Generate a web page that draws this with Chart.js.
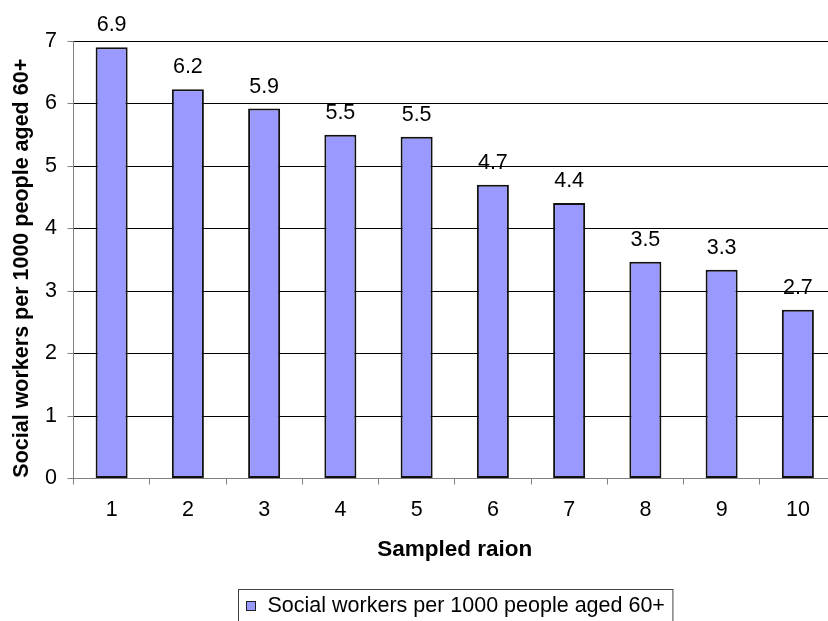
<!DOCTYPE html>
<html>
<head>
<meta charset="utf-8">
<title>Social workers per 1000 people aged 60+</title>
<script src="https://cdn.jsdelivr.net/npm/chart.js@4.4.1/dist/chart.umd.min.js"></script>
<style>
  html, body { margin: 0; padding: 0; background: #ffffff; overflow: hidden; }
  #wrap { width: 828px; height: 621px; overflow: hidden; }
  #chart { display: block; }
</style>
</head>
<body>
<div id="wrap">
  <canvas id="chart" width="845" height="621"></canvas>
</div>
<script>
// ---- data ----
const raions = ['1', '2', '3', '4', '5', '6', '7', '8', '9', '10'];
const workersPer1000 = [6.9, 6.23, 5.92, 5.5, 5.47, 4.7, 4.41, 3.47, 3.34, 2.7];
const seriesName = 'Social workers per 1000 people aged 60+';
const xAxisTitle = 'Sampled raion';
const yAxisTitle = 'Social workers per 1000 people aged 60+';
const yMin = 0;
const yMax = 7;
const yStep = 1;

// ---- styling ----
const FONT = '"Liberation Sans", Arial, Helvetica, sans-serif';
const SIZE = 21.5;
const TITLE_SIZE = 22.5;
const BAR_FILL = '#9999FF';
const BAR_EDGE = '#111111';
const AXIS_GREY = '#808080';

Chart.defaults.font.family = FONT;
Chart.defaults.font.size = SIZE;
Chart.defaults.color = '#000000';

// value printed above each bar
const barValueLabels = {
  id: 'barValueLabels',
  afterDatasetsDraw(chart) {
    const { ctx } = chart;
    const meta = chart.getDatasetMeta(0);
    const values = chart.data.datasets[0].data;
    ctx.save();
    ctx.font = `${SIZE}px ${FONT}`;
    ctx.fillStyle = '#000000';
    ctx.textAlign = 'center';
    ctx.textBaseline = 'alphabetic';
    meta.data.forEach((bar, i) => {
      ctx.fillText(values[i].toFixed(1), bar.x, bar.y - 16);
    });
    ctx.restore();
  }
};

// vertical value-axis title, set a little below the plot's middle
const valueAxisTitle = {
  id: 'valueAxisTitle',
  afterDraw(chart) {
    const { ctx, chartArea } = chart;
    const cy = (chartArea.top + chartArea.bottom) / 2 + 8.5;
    ctx.save();
    ctx.translate(22.5, cy);
    ctx.rotate(-Math.PI / 2);
    ctx.font = `bold ${SIZE}px ${FONT}`;
    ctx.fillStyle = '#000000';
    ctx.textAlign = 'center';
    ctx.textBaseline = 'middle';
    ctx.fillText(yAxisTitle, 0, 0);
    ctx.restore();
  }
};

// boxed legend under the axis title, centred on the plot
const boxedLegend = {
  id: 'boxedLegend',
  afterDraw(chart) {
    const { ctx, chartArea } = chart;
    const ds = chart.data.datasets[0];
    ctx.save();
    ctx.font = `${SIZE}px ${FONT}`;
    const textW = ctx.measureText(ds.label).width;
    const padL = 8, sw = 9, gap = 12, padR = 8;
    const boxW = padL + sw + gap + textW + padR;
    const cx = (chartArea.left + chartArea.right) / 2;
    const left = Math.round(cx - boxW / 2) + 0.5;
    const top = 589.5;
    ctx.strokeStyle = '#404040';
    ctx.lineWidth = 1;
    ctx.strokeRect(left, top, boxW, 60);
    const midY = 606;
    ctx.fillStyle = ds.backgroundColor;
    ctx.fillRect(left + padL, midY - 4.5, sw, sw);
    ctx.strokeStyle = '#202020';
    ctx.strokeRect(left + padL, midY - 4.5, sw, sw);
    ctx.fillStyle = '#000000';
    ctx.textAlign = 'left';
    ctx.textBaseline = 'middle';
    ctx.fillText(ds.label, left + padL + sw + gap, midY);
    ctx.restore();
  }
};

new Chart(document.getElementById('chart'), {
  type: 'bar',
  data: {
    labels: raions,
    datasets: [{
      label: seriesName,
      data: workersPer1000,
      backgroundColor: BAR_FILL,
      borderColor: BAR_EDGE,
      borderWidth: 2,
      borderSkipped: false,
      barPercentage: 0.42,
      categoryPercentage: 1.0
    }]
  },
  options: {
    responsive: false,
    animation: false,
    events: [],
    layout: { padding: { left: 9, top: 41, right: 9, bottom: 58 } },
    plugins: {
      legend: { display: false },
      tooltip: { enabled: false },
      title: { display: false }
    },
    scales: {
      x: {
        offset: true,
        grid: {
          offset: true,
          drawOnChartArea: false,
          drawTicks: true,
          tickLength: 6,
          color: AXIS_GREY
        },
        border: { color: AXIS_GREY, width: 1 },
        ticks: { padding: 13, maxRotation: 0, autoSkip: false, color: '#000000' },
        title: {
          display: true,
          text: xAxisTitle,
          color: '#000000',
          padding: 0,
          font: { family: FONT, size: TITLE_SIZE, weight: 'bold' }
        },
        afterFit(scale) { scale.height = 84.5; }
      },
      y: {
        min: yMin,
        max: yMax,
        ticks: { stepSize: yStep, padding: 10.5, color: '#000000' },
        grid: {
          color: (c) => (c.tick && c.tick.value === 0 ? 'rgba(0,0,0,0)' : '#000000'),
          tickColor: AXIS_GREY,
          tickLength: 6,
          drawTicks: true
        },
        border: { color: AXIS_GREY, width: 1 },
        title: { display: false },
        afterFit(scale) { scale.width = 64.5; }
      }
    }
  },
  plugins: [barValueLabels, valueAxisTitle, boxedLegend]
});
</script>
</body>
</html>
